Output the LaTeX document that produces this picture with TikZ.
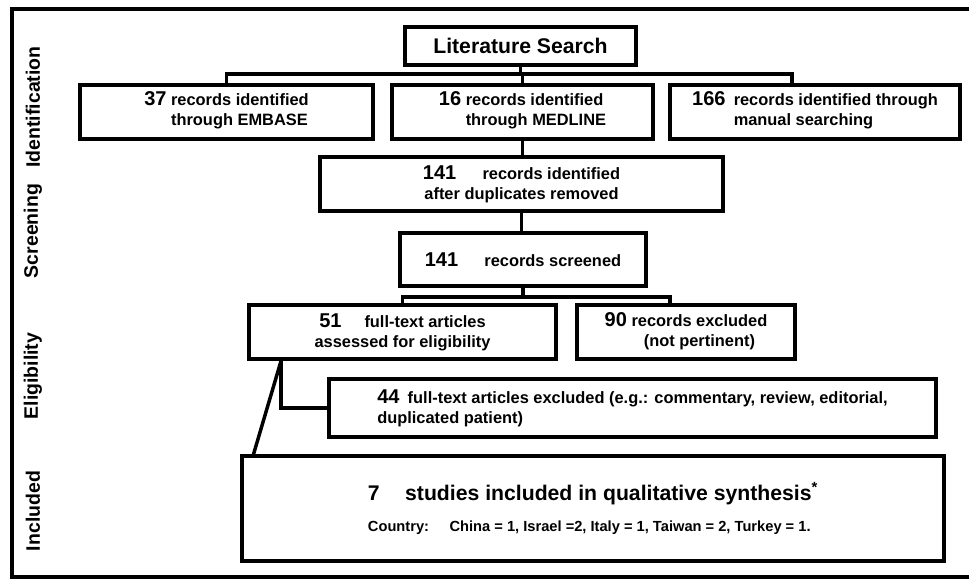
\documentclass[tikz,border=0pt]{standalone}
\usepackage{fontspec}
\setmainfont{Liberation Sans}
\usetikzlibrary{positioning}
\tikzset{
  box/.style={draw, line width=3pt, inner sep=2pt, align=center, font=\fontsize{12.3}{15}\selectfont\bfseries},
  wh/.style 2 args={minimum width=#1*0.75pt, minimum height=#2*0.75pt},
  link/.style={line width=2.6pt},
  frame/.style={line width=3pt},
  stage/.style={rotate=90, font=\fontsize{14.6}{17}\selectfont\bfseries}
}
\newcommand{\nbig}[1]{{\fontsize{15}{15}\selectfont #1}}
\newcommand{\twol}[2]{\begin{tabular}[t]{@{}#1@{}}#2\end{tabular}}

\begin{document}
\begin{tikzpicture}[x=0.75pt, y=-0.75pt]
\useasboundingbox (0,0) rectangle (969,581);
\draw[frame] (969,9) -- (12,9) -- (12,577) -- (969,577);
% stage labels
\node[stage] (lid) at (33,107) {Identification};
\node[stage] (lsc) at (33,231) {Screening};
\node[stage] (lel) at (33,376) {Eligibility};
\node[stage] (lin) at (33,511) {Included};
% boxes
\node[box, wh={231}{38}, font=\fontsize{15.9}{19}\selectfont\bfseries] (lit) at (520.5,46) {Literature Search};
\node[box, wh={293}{54}] (embase) at (226.5,112) {\nbig{37} \twol{l}{records identified\\through EMBASE}};
\node[box, wh={261}{54}] (medline) at (522.5,112) {\nbig{16} \twol{l}{records identified\\through MEDLINE}};
\node[box, wh={290}{54}] (manual) at (815,112) {\nbig{166}\enspace\twol{l}{records identified through\\manual searching}};
\node[box, wh={403}{54}] (dup) at (521.5,184) {\nbig{141}\hspace{1.6em}records identified\\after duplicates removed};
\node[box, wh={246}{53}] (screen) at (523,259.5) {\nbig{141}\hspace{1.6em}records screened};
\node[box, wh={307}{54}] (full) at (402.5,332) {\nbig{51}\hspace{1.4em}full-text articles\\assessed for eligibility};
\node[box, wh={218}{54}] (notp) at (686,332) {\nbig{90} \twol{c}{records excluded\\(not pertinent)}};
\node[box, wh={607}{58}, align=left] (excl) at (632.5,408) {\nbig{44}\enspace full-text articles excluded (e.g.: commentary, review, editorial,\\duplicated patient)};
\node[box, wh={702}{105}, align=left] (incl) at (593,508.5)
  {{\fontsize{15.9}{19}\selectfont 7\hspace{1.2em}studies included in qualitative synthesis\textsuperscript{*}}\\[8pt]
   {\fontsize{11}{13}\selectfont Country:\hspace{1.4em}China = 1, Israel =2, Italy = 1, Taiwan = 2, Turkey = 1.}};
% connectors
\coordinate (idbus) at (520,74);
\coordinate (mandrop) at (792,85);
\draw[link] (lit.south) -- (lit.south |- idbus);
\draw[link] (embase.north) -- (embase.north |- idbus) -| (mandrop);
\draw[link] (medline.north) -- (medline.north |- idbus);
\draw[link] (medline.south) -- (medline.south |- dup.north);
\draw[link] (dup.south) -- (dup.south |- screen.north);
\coordinate (scbus) at (520,297);
\coordinate (nodrop) at (670,305);
\draw[link] (screen.south) -- (screen.south |- scbus);
\draw[link] (full.north) -- (full.north |- scbus) -| (nodrop);
\coordinate (fullfoot) at (281,361);
\coordinate (incltop) at (253,456);
\draw[link] (fullfoot) |- (excl.west);
\draw[link] (fullfoot) -- (incltop);
\end{tikzpicture}
\end{document}
